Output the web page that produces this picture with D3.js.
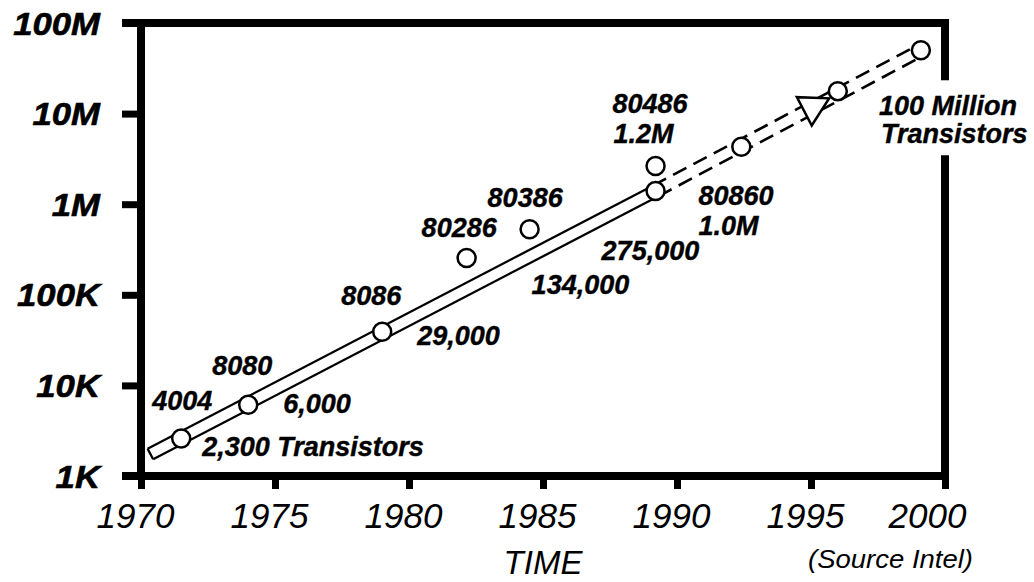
<!DOCTYPE html>
<html>
<head>
<meta charset="utf-8">
<title>Transistors per chip</title>
<style>
body { margin: 0; background: #fff; }
svg { display: block; font-family: 'Liberation Sans', Arial, Helvetica, sans-serif; }
.ylab { font-size: 31px; font-weight: bold; font-style: italic; stroke: #000; stroke-width: 0.6px; }
.xlab { font-size: 35px; font-style: italic; }
.note { font-size: 27px; font-weight: bold; font-style: italic; stroke: #000; stroke-width: 0.4px; }
.source { font-size: 25px; font-style: italic; }
</style>
</head>
<body>
<svg width="1034" height="582"></svg>
<script src="https://d3js.org/d3.v7.min.js"></script>
<script>

const yearTicks = [1970, 1975, 1980, 1985, 1990, 1995, 2000];
const countTicks = [1e3, 1e4, 1e5, 1e6, 1e7, 1e8];
const countTickLabels = ['1K', '10K', '100K', '1M', '10M', '100M'];

// circles
const chipYears = [1971.5, 1974.0, 1979.0, 1982.15, 1984.5, 1989.2, 1989.2, 1992.4, 1996.0, 1999.1];
const chipCounts = [2600, 6100, 39000, 255000, 530000, 2640000, 1400000, 4300000, 17700000, 50000000];

// trend band: start, end of the solid part, end of the dashed part
const trendYears = [1970.35, 1989.2, 1999.1];
const trendCounts = [1750, 1400000, 50000000];
const arrowYear = 1994.75;

// labels and the circle each one belongs to
const noteText = ['4004', '2,300 Transistors', '8080', '6,000', '8086', '29,000',
    '80286', '134,000', '80386', '275,000', '80486', '1.2M', '80860', '1.0M',
    '100 Million', 'Transistors'];
const noteChip = [0, 0, 1, 1, 2, 2, 3, 3, 4, 4, 5, 5, 6, 6, 9, 9];

// label offsets from their circle (px)
const noteOffset = [[-29, -28], [21, 18], [-36, -30], [35, 8], [-41, -27], [35, 13],
    [-45, -21], [65, 36], [-42, -22], [72, 31], [-43, -53], [-42, -23], [43, 14], [43, 44],
    [-42, 65], [-40, 93]];

const svg = d3.select('svg');

const x = d3.scaleLinear().domain([1970, 2000]).range([141, 945]);
const y = d3.scaleLog().domain([1e3, 1e8]).range([476, 23]);

// axes (ticks + labels)
const yAxis = svg.append('g')
    .attr('transform', `translate(${x(1970)},0)`)
    .call(d3.axisLeft(y)
        .tickValues(countTicks)
        .tickFormat((d, i) => countTickLabels[i])
        .tickSize(19));
yAxis.select('.domain').remove();
yAxis.selectAll('line').attr('stroke-width', 7);
yAxis.selectAll('text')
    .attr('class', 'ylab')
    .attr('x', -41 / 1.12)
    .attr('dy', '0.36em')
    .attr('transform', 'scale(1.12,1)');

const xAxis = svg.append('g')
    .attr('transform', `translate(0,${y(1e3)})`)
    .call(d3.axisBottom(x)
        .tickValues(yearTicks)
        .tickFormat(d3.format('d'))
        .tickSize(13));
xAxis.select('.domain').remove();
xAxis.selectAll('line').attr('stroke-width', 7);
xAxis.selectAll('text')
    .attr('class', 'xlab')
    .attr('y', 52)
    .attr('dy', 0)
    .attr('dx', d => d === 2000 ? -18 : -6);

// frame
const labelTop = y(chipCounts[9]) + noteOffset[14][1] - 35;
const labelBottom = y(chipCounts[9]) + noteOffset[15][1] + 12;
const frame = [
    [[x(1970) - 19, y(1e8)], [x(2000) + 4, y(1e8)]],
    [[x(1970) - 19, y(1e3)], [x(2000) + 4, y(1e3)]],
    [[x(1970), y(1e8) - 4], [x(1970), y(1e3) + 4]],
    [[x(2000), y(1e8) - 4], [x(2000), labelTop]],
    [[x(2000), labelBottom], [x(2000), y(1e3) + 4]]
];
svg.append('g')
    .selectAll('line')
    .data(frame)
    .join('line')
    .attr('x1', d => d[0][0]).attr('y1', d => d[0][1])
    .attr('x2', d => d[1][0]).attr('y2', d => d[1][1])
    .attr('stroke', '#000')
    .attr('stroke-width', 8);

// trend band
const p = trendYears.map((t, i) => [x(t), y(trendCounts[i])]);
const len = Math.hypot(p[2][0] - p[0][0], p[2][1] - p[0][1]);
const u = [(p[2][0] - p[0][0]) / len, (p[2][1] - p[0][1]) / len];
const n = [-u[1], u[0]];
const half = 6;
const off = (pt, s) => [pt[0] + n[0] * half * s, pt[1] + n[1] * half * s];
const line = d3.line();

const band = svg.append('g')
    .attr('fill', 'none')
    .attr('stroke', '#000')
    .attr('stroke-width', 2.3);

[1, -1].forEach(s => {
    band.append('path').attr('d', line([off(p[0], s), off(p[1], s)]));
    band.append('path')
        .attr('d', line([off(p[1], s), off(p[2], s)]))
        .attr('stroke-width', 2.6)
        .attr('stroke-dasharray', '15,8');
});
band.append('path').attr('d', line([off(p[0], 1), off(p[0], -1)]));

// arrow head on the dashed part
const t = (x(arrowYear) - p[0][0]) / (p[2][0] - p[0][0]);
const c = [p[0][0] + t * (p[2][0] - p[0][0]), p[0][1] + t * (p[2][1] - p[0][1])];
svg.append('path')
    .attr('d', line([
        [c[0] + n[0] * 16, c[1] + n[1] * 16],
        [c[0] + u[0] * 28, c[1] + u[1] * 28],
        [c[0] - n[0] * 16, c[1] - n[1] * 16]
    ]) + 'Z')
    .attr('fill', '#fff')
    .attr('stroke', '#000')
    .attr('stroke-width', 2.5)
    .attr('stroke-linejoin', 'miter');

// circles
svg.append('g')
    .selectAll('circle')
    .data(chipYears)
    .join('circle')
    .attr('cx', d => x(d))
    .attr('cy', (d, i) => y(chipCounts[i]))
    .attr('r', 9)
    .attr('fill', '#fff')
    .attr('stroke', '#000')
    .attr('stroke-width', 2.5);

// labels
svg.append('g')
    .selectAll('text')
    .data(noteText)
    .join('text')
    .attr('class', 'note')
    .attr('x', (d, i) => x(chipYears[noteChip[i]]) + noteOffset[i][0])
    .attr('y', (d, i) => y(chipCounts[noteChip[i]]) + noteOffset[i][1])
    .text(d => d);

svg.append('text')
    .attr('class', 'xlab')
    .style('font-size', '33px')
    .attr('text-anchor', 'middle')
    .attr('x', (x(1970) + x(2000)) / 2)
    .attr('y', 574)
    .text('TIME');

svg.append('text')
    .attr('class', 'source')
    .attr('text-anchor', 'end')
    .attr('transform', `translate(${x(2000) + 28},568) scale(1.1,1)`)
    .text('(Source Intel)');

</script>
</body>
</html>
